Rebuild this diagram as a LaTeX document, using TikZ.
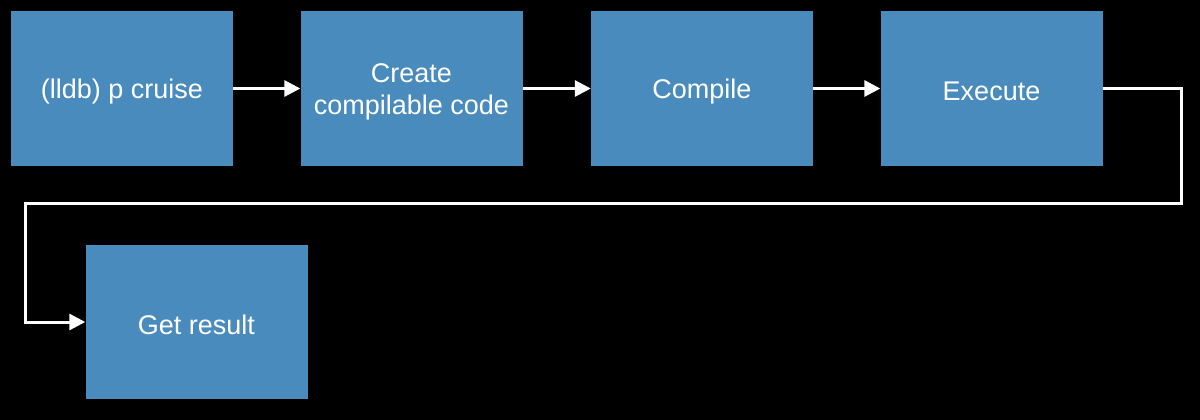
\documentclass[tikz,border=0pt]{standalone}
\usepackage{fontspec}
\setmainfont{Liberation Sans}
\usetikzlibrary{arrows.meta}
\definecolor{boxblue}{RGB}{74,139,189}
\begin{document}
\begin{tikzpicture}[x=1pt,y=-1pt,
  box/.style={fill=boxblue, draw=none, minimum width=222pt, minimum height=155pt,
    inner sep=0pt, text=white, font=\fontsize{27}{32}\selectfont, align=center},
  lbl/.style={text=white, font=\fontsize{27}{32}\selectfont, align=center, inner sep=0pt},
  conn/.style={draw=white, line width=3pt, -{Triangle[length=16pt,width=16pt]}}]
\fill[black] (0,0) rectangle (1200,420);
\useasboundingbox (0,0) rectangle (1200,420);
\node[box] (a) at (122,88.5) {};
\node[box] (b) at (411.5,88.5) {};
\node[box] (c) at (702,88.5) {};
\node[box] (d) at (991.5,88.5) {};
\node[box, minimum height=154pt] (e) at (196.5,322) {};
\node[lbl] (ta) at ([yshift=-3pt]a.center) {(lldb) p cruise};
\node[lbl] (tb) at ([yshift=-3pt]b.center) {Create\\compilable code};
\node[lbl] (tc) at ([yshift=-3pt]c.center) {Compile};
\node[lbl] (td) at ([yshift=-3pt]d.center) {Execute};
\node[lbl] (te) at ([yshift=-3pt]e.center) {Get result};
\coordinate (r1) at (1181,203);
\coordinate (l1) at (25,203);
\draw[conn] (a.east) -- (b.west);
\draw[conn] (b.east) -- (c.west);
\draw[conn] (c.east) -- (d.west);
\draw[conn] (d.east) -| (r1) -- (l1) |- (e.west);
\end{tikzpicture}
\end{document}
